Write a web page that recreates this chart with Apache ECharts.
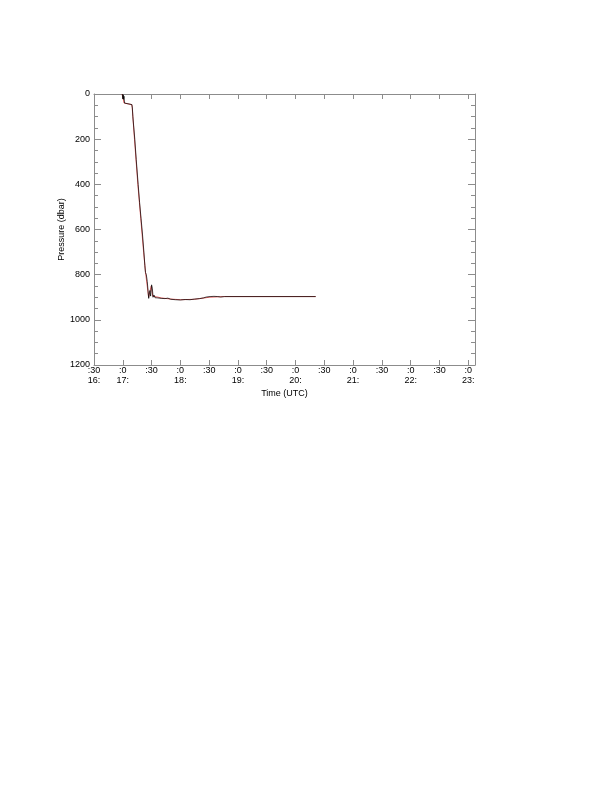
<!DOCTYPE html>
<html>
<head>
<meta charset="utf-8">
<script src="https://cdn.jsdelivr.net/npm/echarts@6/dist/echarts.min.js"></script>
<style>
  html, body { margin: 0; padding: 0; background: #fff; }
  #chart { width: 612px; height: 785px; }
</style>
</head>
<body>
<div id="chart"></div>
<script>
// time in minutes after midnight (UTC), pressure in dbar
var blackTime = [1019.5, 1020, 1020.4, 1020.8, 1021.3, 1021.8, 1022.5, 1029.5, 1030, 1030.5, 1031.5, 1032.5, 1034, 1036, 1037.5, 1039, 1040.5, 1042, 1043, 1043.6, 1044.5, 1045.5, 1046.3, 1047, 1047.7, 1048.4, 1049, 1050, 1050.8, 1051.5, 1052.5, 1053.5, 1055, 1056.5, 1058, 1060, 1062, 1064, 1067, 1070, 1075, 1080, 1085, 1090, 1095, 1100, 1104, 1107, 1109, 1111, 1113, 1115, 1117, 1119, 1122, 1126, 1221];
var blackPres = [0, 22, 3, 24, 10, 40, 47, 47, 62, 100, 150, 200, 290, 400, 480, 550, 620, 700, 760, 790, 800, 830, 870, 905, 880, 870, 895, 845, 860, 900, 890, 902, 896, 903, 897, 905, 900, 906, 904, 909, 911, 912, 910, 911, 908, 906, 903, 899, 902, 897, 901, 896, 900, 897, 899, 897, 897];

var redTime = [1019.3, 1021.3, 1022.3, 1029.3, 1029.8, 1032.2, 1035.7, 1038.7, 1041.7, 1043.7, 1046.2, 1046.9, 1048.2, 1049.7, 1051.2, 1055, 1060, 1070, 1080, 1095, 1110, 1125, 1221];
var redPres = [0, 40, 47, 47, 60, 200, 400, 550, 700, 790, 875, 900, 875, 850, 895, 898, 903, 908, 911, 909, 900, 897, 897];

var timeMin = 990;   // 16:30
var timeMax = 1387;  // ~23:07
var presTicks = [0, 200, 400, 600, 800, 1000, 1200];

function zip(a, b) {
    var out = [];
    for (var i = 0; i < a.length; i++) out.push([a[i], b[i]]);
    return out;
}

// ":30" / ":0" on the first line, hour only on the full hours (and the first tick)
function timeLabel(v) {
    if (v % 30 !== 0) return '';
    var h = Math.floor(v / 60);
    var m = v % 60;
    var second = (m === 0 || v === timeMin) ? h + ':' : ' ';
    return ':' + m + '\n' + second;
}

var font = "'Liberation Sans', Arial, sans-serif";
var axisGray = '#8c8c8c';

var chart = echarts.init(document.getElementById('chart'), null, { renderer: 'canvas' });

var baseX = {
    type: 'value',
    min: timeMin,
    max: timeMax,
    interval: 30,
    axisLine: { show: true, onZero: false, lineStyle: { color: axisGray, width: 1 } },
    axisTick: { show: true, inside: true, length: 5, lineStyle: { color: axisGray } },
    splitLine: { show: false }
};
var baseY = {
    type: 'value',
    inverse: true,
    min: presTicks[0],
    max: presTicks[presTicks.length - 1],
    interval: 200,
    axisLine: { show: true, onZero: false, lineStyle: { color: axisGray, width: 1 } },
    axisTick: { show: true, inside: true, length: 7, lineStyle: { color: axisGray } },
    minorTick: { show: true, splitNumber: 4, length: 4, lineStyle: { color: axisGray } },
    splitLine: { show: false },
    minorSplitLine: { show: false }
};

var option = {
    animation: false,
    backgroundColor: '#fff',
    grid: { left: 94, top: 94, right: 137, bottom: 420, containLabel: false },
    xAxis: [
        Object.assign({}, baseX, {
            position: 'bottom',
            name: 'Time (UTC)',
            nameLocation: 'middle',
            nameGap: 24,
            nameMoveOverlap: false,
            nameTextStyle: { color: '#000', fontSize: 9, fontFamily: font },
            axisLabel: {
                interval: 0,
                margin: 1,
                color: '#000',
                fontSize: 9,
                lineHeight: 10,
                fontFamily: font,
                formatter: timeLabel
            }
        }),
        Object.assign({}, baseX, {
            position: 'top',
            axisLabel: { show: false }
        })
    ],
    yAxis: [
        Object.assign({}, baseY, {
            position: 'left',
            name: 'Pressure (dbar)',
            nameLocation: 'middle',
            nameGap: 28,
            nameMoveOverlap: false,
            nameTextStyle: { color: '#000', fontSize: 9, fontFamily: font },
            axisLabel: {
                margin: 4, color: '#000', fontSize: 9, fontFamily: font,
                formatter: function (v) { return String(v); }
            }
        }),
        Object.assign({}, baseY, {
            position: 'right',
            axisLabel: { show: false }
        })
    ],
    series: [
        {
            type: 'line',
            xAxisIndex: 0,
            yAxisIndex: 0,
            data: zip(redTime, redPres),
            showSymbol: false,
            lineStyle: { color: '#e03c3c', width: 0.8 },
            z: 2
        },
        {
            type: 'line',
            xAxisIndex: 0,
            yAxisIndex: 0,
            data: zip(blackTime, blackPres),
            showSymbol: false,
            lineStyle: { color: '#000', width: 0.9, opacity: 0.8 },
            z: 3
        }
    ]
};

chart.setOption(option);
</script>
</body>
</html>
